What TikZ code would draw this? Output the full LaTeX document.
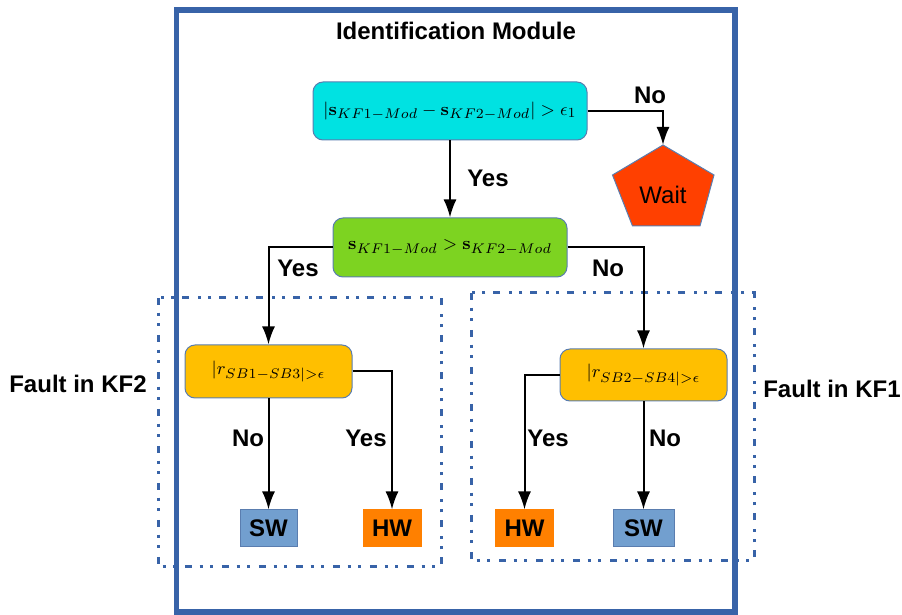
\documentclass[tikz,border=0pt]{standalone}
\usepackage{amsmath,amssymb}
\usepackage[no-math]{fontspec}
\setmainfont{Liberation Sans}
\usetikzlibrary{arrows.meta}

\definecolor{frameblue}{RGB}{56,99,168}
\definecolor{edgeblue}{RGB}{90,125,175}
\definecolor{cyanbox}{RGB}{0,226,226}
\definecolor{greenbox}{RGB}{125,211,33}
\definecolor{yellowbox}{RGB}{255,191,0}
\definecolor{waitred}{RGB}{255,64,0}
\definecolor{hworange}{RGB}{255,128,0}
\definecolor{swblue}{RGB}{114,159,207}

\begin{document}
\begin{tikzpicture}[x=0.5pt, y=-0.5pt,
		>={Latex[length=9pt,width=6.5pt]},   % arrow tips
		font=\fontsize{12}{14}\selectfont\bfseries,
		decision/.style={draw=edgeblue, line width=0.5pt, rounded corners=5pt, inner sep=0pt, font=\fontsize{9.4}{11}\selectfont},
		leaf/.style={draw=edgeblue, line width=0.5pt, inner sep=0pt, minimum width=29pt, minimum height=18.5pt},
		flow/.style={->, line width=1pt, black},
		faultbox/.style={draw=frameblue, line width=1.5pt, dash pattern=on 3.3pt off 4pt on 1.5pt off 3.8pt on 1.5pt off 4.4pt}]
	\useasboundingbox (0,0) rectangle (902,615);
	% Modulrahmen
	\draw[frameblue, line width=2.75pt] (176.5,10) rectangle (735,612);
	\node (title) at (456,31) {Identification Module};
	% Fehlerbereiche
	\draw[faultbox] (158,298) rectangle (441,567);
	\draw[faultbox] (471,293) rectangle (754,561);
	\node (kf2) at (78,384) {Fault in KF2};
	\node (kf1) at (832,389) {Fault in KF1};
	% Entscheidungen
	\node[decision, fill=cyanbox, minimum width=137pt, minimum height=29pt] (diff) at (450,111)
		{$\left|\mathbf{s}_{KF1-Mod}-\mathbf{s}_{KF2-Mod}\right|>\epsilon_1$};
	\node[decision, fill=greenbox, minimum width=117pt, minimum height=29.5pt] (cmp) at (450,247.5)
		{$\mathbf{s}_{KF1-Mod}>\mathbf{s}_{KF2-Mod}$};
	\node[decision, fill=yellowbox, minimum width=83.5pt, minimum height=26.5pt] (res13) at (268.5,371.5)
		{$|r_{SB1-SB3|>\epsilon}$};
	\node[decision, fill=yellowbox, minimum width=83.5pt, minimum height=26pt] (res24) at (643.5,375)
		{$|r_{SB2-SB4|>\epsilon}$};
	% Warten
	\draw[edgeblue, line width=0.5pt, fill=waitred] (663,145) -- (714,175) -- (700,226) -- (632.5,226) -- (612.5,175) -- cycle;
	\coordinate (waittop) at (663,145);
	\node[font=\fontsize{12}{14}\selectfont] (wait) at (663,195) {Wait};
	% Ergebnisse
	\node[leaf, fill=swblue, minimum width=28.5pt] (swL) at (268.5,528.5) {SW};
	\node[leaf, fill=hworange, draw=hworange] (hwL) at (392,528.5) {HW};
	\node[leaf, fill=hworange, draw=hworange] (hwR) at (524.5,528.5) {HW};
	\node[leaf, fill=swblue, minimum width=30.5pt] (swR) at (643.5,528.5) {SW};
	% Pfeile
	\draw[flow] (diff.south) -- (cmp.north);
	\draw[flow] (diff.east) -| (waittop);
	\draw[flow] (cmp.west) -| (res13.north);
	\draw[flow] (cmp.east) -| (res24.north);
	\draw[flow] (res13.south) -- (swL.north);
	\draw[flow] (res13.east) -| (hwL.north);
	\draw[flow] (res24.west) -| (hwR.north);
	\draw[flow] (res24.south) -- (swR.north);
	% Beschriftung
	\node (y1) at (488,178) {Yes};
	\node (n1) at (650,95) {No};
	\node (y2) at (298,268) {Yes};
	\node (n2) at (608,268) {No};
	\node (n3) at (248,438) {No};
	\node (y3) at (366,438) {Yes};
	\node (y4) at (548,438) {Yes};
	\node (n4) at (665,438) {No};
\end{tikzpicture}
\end{document}
